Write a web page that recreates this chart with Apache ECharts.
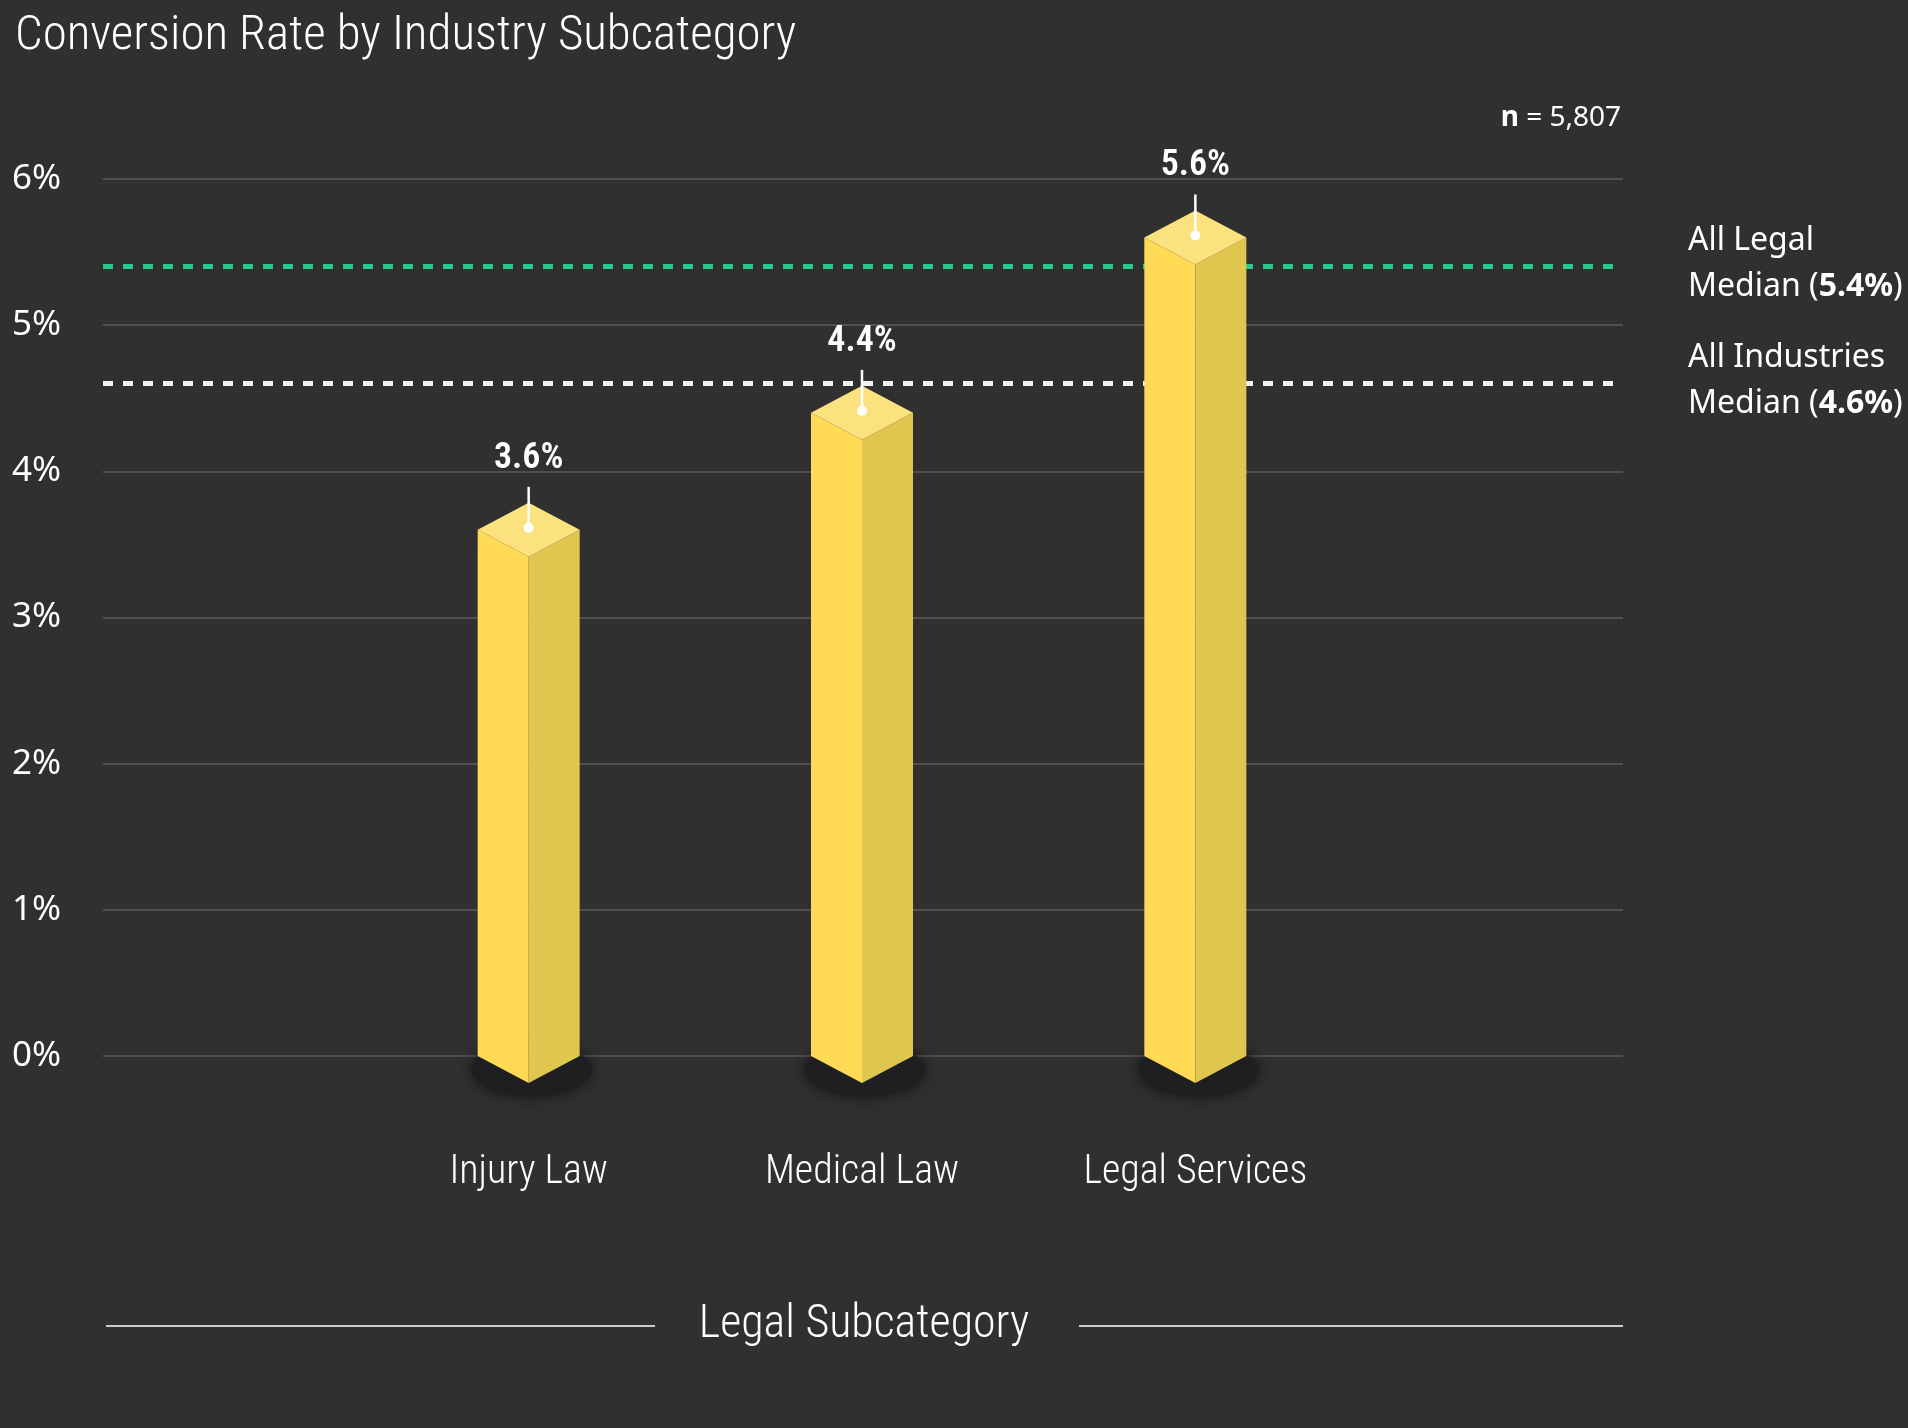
<!DOCTYPE html>
<html>
<head>
<meta charset="utf-8">
<script src="https://cdn.jsdelivr.net/npm/echarts@6/dist/echarts.min.js"></script>
<style>
  html, body { margin: 0; padding: 0; background: #303030; }
  #chart { width: 1908px; height: 1428px; }
</style>
</head>
<body>
<div id="chart"></div>
<script>
// data
var categories = ['Injury Law', 'Medical Law', 'Legal Services'];
var rates = [3.6, 4.4, 5.6];
var legalMedian = 5.4;
var industryMedian = 4.6;
var yTicks = [0, 1, 2, 3, 4, 5, 6];
var sampleSize = '5,807';

var condensed = '"Roboto Condensed", "Liberation Sans Narrow", "DejaVu Sans Condensed", sans-serif';
var sans = '"Noto Sans", "Open Sans", sans-serif';

var myChart = echarts.init(document.getElementById('chart'));

function ellipsePoints(cx, cy, rx, ry) {
    var pts = [];
    for (var i = 0; i < 48; i++) {
        var a = i / 48 * Math.PI * 2;
        pts.push([cx + rx * Math.cos(a), cy + ry * Math.sin(a)]);
    }
    return pts;
}

function renderBar(params, api) {
    var top = api.coord([api.value(0), api.value(1)]);
    var base = api.coord([api.value(0), 0]);
    var x = top[0], yt = top[1], yb = base[1];
    var hw = 51, d = 27;
    var lineTop = yt - d - 16;
    return {
        type: 'group',
        children: [
            {
                type: 'polygon',
                shape: { points: ellipsePoints(x + 3, yb + 14, 60, 26) },
                style: { fill: '#1f1f21', shadowBlur: 14, shadowColor: 'rgba(15,15,17,0.9)' }
            },
            {
                type: 'polygon',
                shape: { points: [[x - hw, yt], [x, yt + d], [x, yb + d], [x - hw, yb]] },
                style: { fill: '#FFDB55' }
            },
            {
                type: 'polygon',
                shape: { points: [[x, yt + d], [x + hw, yt], [x + hw, yb], [x, yb + d]] },
                style: { fill: '#DFC64F' }
            },
            {
                type: 'polygon',
                shape: { points: [[x, yt - d], [x + hw, yt], [x, yt + d], [x - hw, yt]] },
                style: { fill: '#FCE17F' }
            },
            {
                type: 'line',
                shape: { x1: x, y1: yt - 2, x2: x, y2: lineTop },
                style: { stroke: '#ffffff', lineWidth: 2.5 }
            },
            {
                type: 'circle',
                shape: { cx: x, cy: yt - 2, r: 5 },
                style: { fill: '#ffffff' }
            },
            {
                type: 'text',
                x: x,
                y: lineTop - 10,
                style: {
                    text: api.value(1).toFixed(1) + '%',
                    fill: '#ffffff',
                    font: '600 36px ' + condensed,
                    align: 'center',
                    verticalAlign: 'bottom'
                }
            }
        ]
    };
}

var option = {
    backgroundColor: '#303030',
    animation: false,
    title: {
        text: 'Conversion Rate by Industry Subcategory',
        left: 10,
        top: 7,
        textStyle: { color: '#ffffff', fontFamily: condensed, fontWeight: 300, fontSize: 49 }
    },
    grid: [
        { left: 103, right: 285, top: 179, bottom: 372 },
        { left: 362, width: 1000, top: 179, bottom: 372 }
    ],
    xAxis: [
        { type: 'value', gridIndex: 0, show: false, min: 0, max: 1 },
        {
            type: 'category',
            gridIndex: 1,
            data: categories,
            axisLine: { show: false },
            axisTick: { show: false },
            axisLabel: {
                color: '#ffffff',
                fontFamily: condensed,
                fontWeight: 300,
                fontSize: 40,
                margin: 117,
                verticalAlign: 'middle'
            }
        }
    ],
    yAxis: [
        {
            type: 'value',
            gridIndex: 0,
            min: yTicks[0],
            max: yTicks[yTicks.length - 1],
            interval: 1,
            axisLine: { show: false },
            axisTick: { show: false },
            splitLine: { lineStyle: { color: '#505050', width: 2 } },
            axisLabel: {
                color: '#ffffff',
                fontFamily: sans,
                fontSize: 35,
                align: 'left',
                margin: 91,
                padding: [0, 0, 6, 0],
                formatter: '{value}%'
            }
        },
        { type: 'value', gridIndex: 1, show: false, min: 0, max: 6 }
    ],
    series: [
        {
            type: 'line',
            xAxisIndex: 0,
            yAxisIndex: 0,
            data: [],
            z: 1,
            markLine: {
                silent: true,
                symbol: 'none',
                data: [
                    {
                        yAxis: legalMedian,
                        lineStyle: { color: '#26C98A', type: [10, 10], width: 5 },
                        label: {
                            formatter: '{a|All Legal}\n{a|Median (}{b|' + legalMedian.toFixed(1) + '%}{a|)}'
                        }
                    },
                    {
                        yAxis: industryMedian,
                        lineStyle: { color: '#f2f2f2', type: [10, 10], width: 5 },
                        label: {
                            formatter: '{a|All Industries}\n{a|Median (}{b|' + industryMedian.toFixed(1) + '%}{a|)}'
                        }
                    }
                ],
                label: {
                    position: 'end',
                    distance: 65,
                    align: 'left',
                    color: '#ffffff',
                    padding: [0, 0, 6, 0],
                    rich: {
                        a: { fontFamily: sans, fontSize: 32, color: '#ffffff', lineHeight: 46 },
                        b: { fontFamily: sans, fontSize: 32, fontWeight: 'bold', color: '#ffffff', lineHeight: 46 }
                    }
                }
            }
        },
        {
            type: 'custom',
            xAxisIndex: 1,
            yAxisIndex: 1,
            z: 5,
            renderItem: renderBar,
            data: rates.map(function (v, i) { return [i, v]; })
        }
    ],
    graphic: [
        {
            type: 'text',
            right: 287,
            top: 104,
            style: {
                text: '{b|n} = ' + sampleSize,
                fill: '#ffffff',
                font: '28px ' + sans,
                rich: {
                    b: { fontFamily: sans, fontSize: 28, fontWeight: 'bold', fill: '#ffffff' }
                }
            }
        },
        {
            type: 'text',
            x: 864,
            y: 1325,
            style: {
                text: 'Legal Subcategory',
                fill: '#ffffff',
                font: '300 46px ' + condensed,
                align: 'center',
                verticalAlign: 'middle'
            }
        },
        {
            type: 'line',
            shape: { x1: 106, y1: 1326, x2: 655, y2: 1326 },
            style: { stroke: '#ffffff', lineWidth: 1.5 }
        },
        {
            type: 'line',
            shape: { x1: 1079, y1: 1326, x2: 1623, y2: 1326 },
            style: { stroke: '#ffffff', lineWidth: 1.5 }
        }
    ]
};

myChart.setOption(option);
</script>
</body>
</html>
